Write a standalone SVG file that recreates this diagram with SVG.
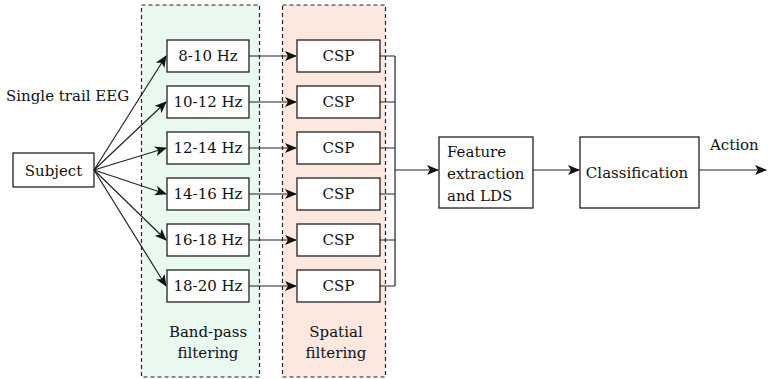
<svg xmlns="http://www.w3.org/2000/svg" width="768" height="379" viewBox="0 0 768 379">
<style>
.t{font-family:'DejaVu Serif','Liberation Serif',serif;font-size:15px;fill:#111}
.box{fill:#fff;stroke:#222;stroke-width:1.3}
.grp{stroke:#222;stroke-width:1.2;stroke-dasharray:4,3}
.c{text-anchor:middle}
.ln{stroke:#222;stroke-width:1.2;fill:none}
</style>
<defs>
<marker id="ah" viewBox="0 0 12 10" refX="11" refY="5" markerWidth="12" markerHeight="10" markerUnits="userSpaceOnUse" orient="auto">
<path d="M0,0 L12,5 L0,10 L3,5 Z" fill="#111"/>
</marker>
</defs>
<g class="t">
<g id="bandpass-group">
<rect x="141.5" y="5" width="118" height="372" fill="#eaf9ef" class="grp"/>
<text class="c" x="208" y="337">Band-pass</text>
<text class="c" x="208" y="358">filtering</text>
</g>
<g id="spatial-group">
<rect x="282.5" y="5" width="103" height="372" fill="#fde8e0" class="grp"/>
<text class="c" x="336" y="337">Spatial</text>
<text class="c" x="336" y="358">filtering</text>
</g>
<text x="6" y="101">Single trail EEG</text>
<g id="subject"><rect class="box" x="13" y="153" width="81" height="34"/><text class="c" x="53.5" y="176">Subject</text></g>
<g id="f1"><rect class="box" x="167" y="40" width="82" height="32"/><text class="c" x="208" y="61">8-10 Hz</text></g>
<g id="f2"><rect class="box" x="167" y="86" width="82" height="32"/><text class="c" x="208" y="107">10-12 Hz</text></g>
<g id="f3"><rect class="box" x="167" y="132" width="82" height="32"/><text class="c" x="208" y="153">12-14 Hz</text></g>
<g id="f4"><rect class="box" x="167" y="178" width="82" height="32"/><text class="c" x="208" y="199">14-16 Hz</text></g>
<g id="f5"><rect class="box" x="167" y="224" width="82" height="32"/><text class="c" x="208" y="245">16-18 Hz</text></g>
<g id="f6"><rect class="box" x="167" y="270" width="82" height="32"/><text class="c" x="208" y="291">18-20 Hz</text></g>
<g id="csp1"><rect class="box" x="297" y="40" width="83" height="32"/><text class="c" x="338.5" y="61">CSP</text></g>
<g id="csp2"><rect class="box" x="297" y="86" width="83" height="32"/><text class="c" x="338.5" y="107">CSP</text></g>
<g id="csp3"><rect class="box" x="297" y="132" width="83" height="32"/><text class="c" x="338.5" y="153">CSP</text></g>
<g id="csp4"><rect class="box" x="297" y="178" width="83" height="32"/><text class="c" x="338.5" y="199">CSP</text></g>
<g id="csp5"><rect class="box" x="297" y="224" width="83" height="32"/><text class="c" x="338.5" y="245">CSP</text></g>
<g id="csp6"><rect class="box" x="297" y="270" width="83" height="32"/><text class="c" x="338.5" y="291">CSP</text></g>
<g id="feature"><rect class="box" x="439" y="137" width="94" height="71"/>
<text x="447" y="157">Feature</text><text x="447" y="179">extraction</text><text x="447" y="201">and LDS</text></g>
<g id="classification"><rect class="box" x="580" y="137" width="119" height="71"/><text class="c" x="637" y="178">Classification</text></g>
<text x="710" y="150">Action</text>
</g>
<g id="connectors">
<line class="ln" x1="94" y1="170" x2="166" y2="56" marker-end="url(#ah)"/>
<line class="ln" x1="94" y1="170" x2="166" y2="102" marker-end="url(#ah)"/>
<line class="ln" x1="94" y1="170" x2="166" y2="148" marker-end="url(#ah)"/>
<line class="ln" x1="94" y1="170" x2="166" y2="194" marker-end="url(#ah)"/>
<line class="ln" x1="94" y1="170" x2="166" y2="240" marker-end="url(#ah)"/>
<line class="ln" x1="94" y1="170" x2="166" y2="286" marker-end="url(#ah)"/>
<line class="ln" x1="249" y1="56" x2="296" y2="56" marker-end="url(#ah)"/>
<line class="ln" x1="249" y1="102" x2="296" y2="102" marker-end="url(#ah)"/>
<line class="ln" x1="249" y1="148" x2="296" y2="148" marker-end="url(#ah)"/>
<line class="ln" x1="249" y1="194" x2="296" y2="194" marker-end="url(#ah)"/>
<line class="ln" x1="249" y1="240" x2="296" y2="240" marker-end="url(#ah)"/>
<line class="ln" x1="249" y1="286" x2="296" y2="286" marker-end="url(#ah)"/>
<path class="ln" d="M380,56H395M380,102H395M380,148H395M380,194H395M380,240H395M380,286H395M395,56V286"/>
<line class="ln" x1="395" y1="170" x2="438" y2="170" marker-end="url(#ah)"/>
<line class="ln" x1="533" y1="170" x2="579" y2="170" marker-end="url(#ah)"/>
<line class="ln" x1="699" y1="170" x2="766" y2="170" marker-end="url(#ah)"/>
</g>
</svg>
